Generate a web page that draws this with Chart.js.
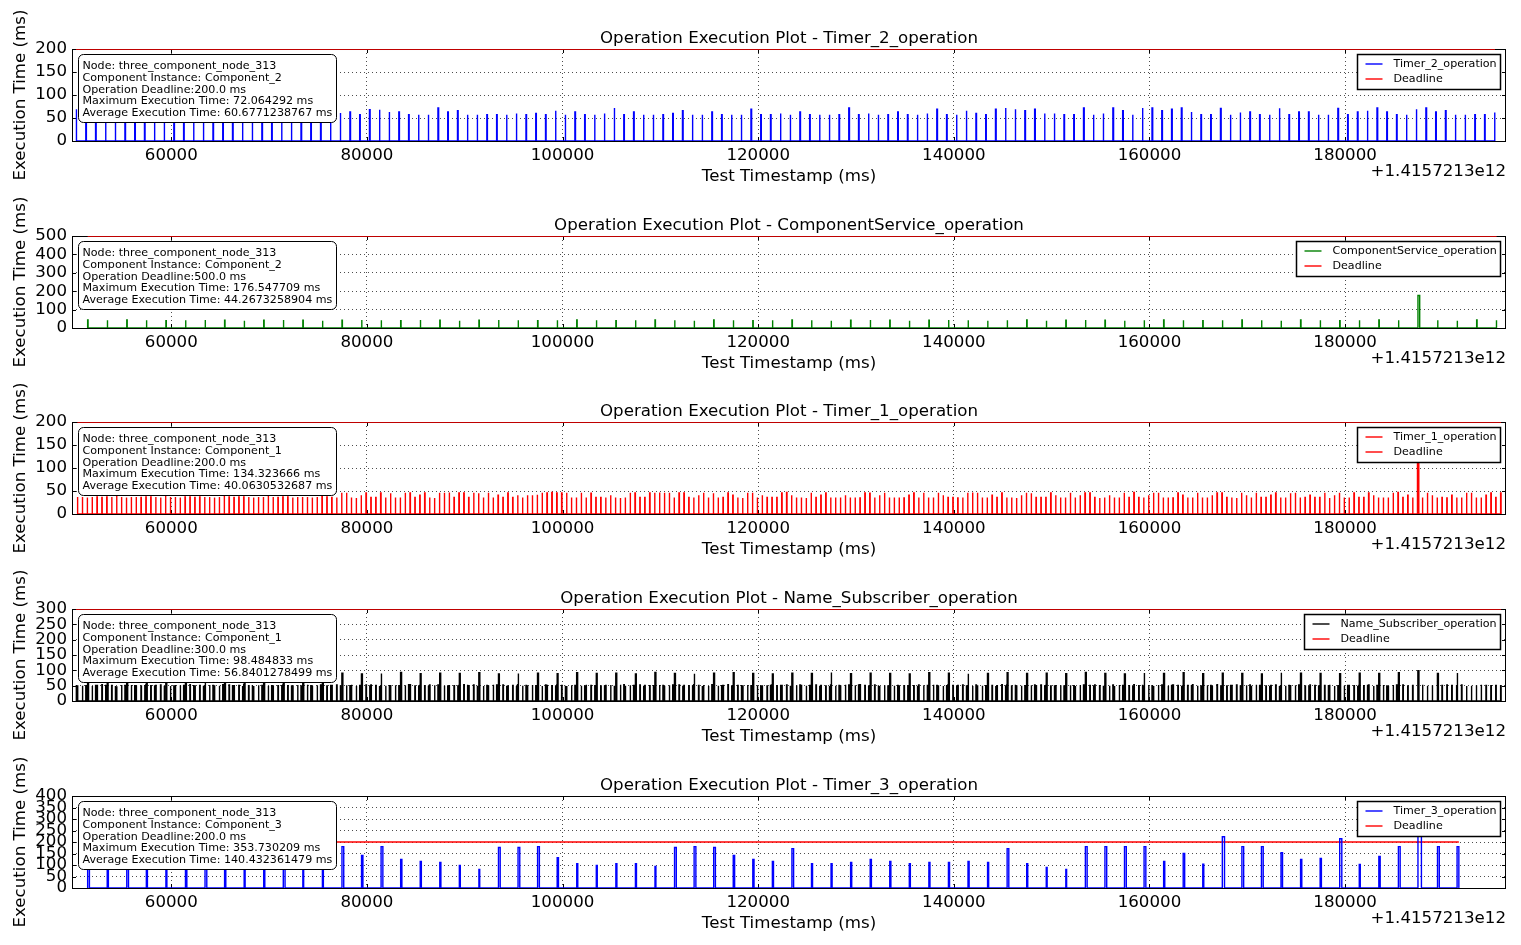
<!DOCTYPE html>
<html><head><meta charset="utf-8">
<script src="https://cdn.jsdelivr.net/npm/chart.js@4.4.1/dist/chart.umd.min.js"></script>
<style>
html,body{margin:0;padding:0;background:#fff;width:1521px;height:945px;overflow:hidden;}
canvas{position:absolute;left:0;}
</style></head><body>
<canvas id="c0" width="1521" height="187" style="top:0px"></canvas>
<canvas id="c1" width="1521" height="187" style="top:187px"></canvas>
<canvas id="c2" width="1521" height="187" style="top:373px"></canvas>
<canvas id="c3" width="1521" height="187" style="top:560px"></canvas>
<canvas id="c4" width="1521" height="187" style="top:747px"></canvas>
<script>
const FONT = "'DejaVu Sans', 'Liberation Sans', sans-serif";
const BIG = 16.67, SMALL = 11.1;
const xOffsetLabel = '+1.4157213e12';
const xTickValues = [60000, 80000, 100000, 120000, 140000, 160000, 180000];
const xAxisMin = 49850, xAxisMax = 196450;
const xAxisTitle = 'Test Timestamp (ms)';
const yAxisTitle = 'Execution Time (ms)';
const nodeName = 'three_component_node_313';

// Timer_2_operation: one execution every 1000 ms
const timer2Start = 50260, timer2Period = 1000;
const timer2Values = [
 69,60,58,62,57,60,63,57,60,58,62,57,60,63,57,59,61,57,60,62,58,57,60,63,57,61,58,
 61,63,57,68,68,63,63,57,57,57,72,63,66,57,57,57,57,57,60,
 57,60,57,66,57,63,57,57,60,72,57,63,57,57,57,60,66,57,57,63,
 57,57,57,69,57,57,60,57,63,57,57,57,57,72,57,60,57,57,63,57,
 57,60,69,57,57,66,60,57,69,
 72,69,66,69,60,60,57,57,72,57,60,72,66,57,72,72,66,69,72,63,57,57,71,57,62,
 63,57,57,71,57,63,63,57,57,71,57,63,66,72,63,57,57,69,72,63,66,57,57,57,57,62
];

// ComponentService_operation: one execution every 2000 ms
const compServiceStart = 51450, compServicePeriod = 2000;
const compServiceValues = [
 44,42,44,42,40,42,44,42,40,42,
 44,42,40,42,44,42,40,44,42,40,
 42,44,42,40,42,44,42,40,42,44,
 42,40,44,42,40,42,44,42,40,42,
 44,42,40,42,44,42,40,42,44,40,
 42,44,42,40,42,44,42,40,42,44,
 42,40,44,42,40,42,44,42,176.5,42,
 40,44,42
];

// Timer_1_operation: one execution every 500 ms
const timer1Start = 50400, timer1Period = 500;
const timer1Values = [
 37,37,36,37,37,36,37,37,40,37,
 36,37,37,36,37,37,37,36,40,37,
 37,36,37,37,36,37,37,37,36,37,
 40,37,36,37,37,37,36,37,37,40,
 37,36,37,37,36,37,37,37,36,37,
 40,37,
 36,36,46,46,36,35,41,46,36,36,
 46,36,45,36,36,46,46,36,41,46,
 36,35,46,46,47,36,46,46,36,46,
 45,36,46,36,41,36,46,36,41,36,
 41,41,42,46,46,47,46,46,46,36,
 36,46,36,45,36,36,36,41,36,35,
 36,46,46,36,36,46,46,47,46,46,
 36,46,
 46,36,36,41,46,36,45,36,36,46,
 41,36,35,46,46,36,41,36,36,36,
 46,47,41,36,36,35,46,36,41,46,
 36,36,36,41,36,36,35,46,45,36,
 41,46,36,36,36,35,41,46,36,46,
 36,36,46,41,36,36,35,36,46,47,
 46,36,36,41,36,46,36,36,35,41,
 46,45,36,36,36,46,41,36,36,46,
 36,41,46,46,36,35,36,41,36,36,
 46,36,47,36,36,41,46,46,36,36,
 35,46,41,36,36,46,36,36,41,46,
 46,36,36,35,46,41,36,46,36,36,
 41,46,36,36,45,46,36,36,41,36,
 36,46,35,41,46,36,36,46,36,36,
 46,41,36,36,36,46,47,36,41,36,
 134.3,36,46,41,36,36,35,41,36,36,
 46,46,36,36,41,46,36,46
];

// Name_Subscriber_operation: executions following each timer publication
const nameSubAfterTimer1 = [
 51,50,52,49,51,53,50,51,48,52, 50,52,51,49,53,50,51,52,50,49,
 52,51,50,53,49,51,50,52,51,50, 49,52,50,51,53,50,49,51,52,50,
 51,50,52,50,49,52,51,53,50,51, 50,49,51,52,50,51,53,49,50,52,
 52,51,49,50,52,51,50,51,53,49, 51,50,52,51,49,50,52,50,51,53,
 50,52,51,49,51,53,50,52,49,51, 53,50,51,52,50,49,51,50,52,51,
 49,51,52,50,53,51,50,49,51,52, 51,53,50,51,49,52,51,50,50,52,
 50,51,49,52,51,50,53,51,52,49, 52,50,51,53,50,51,49,52,50,51,
 51,49,52,50,51,52,50,51,53,50, 50,52,51,49,52,50,51,53,49,51,
 53,51,50,52,49,51,52,50,51,50, 49,50,52,51,50,53,51,49,52,51,
 51,52,50,49,51,50,52,51,50,53, 52,49,51,50,53,51,50,52,51,49,
 50,51,53,51,49,52,50,51,52,50, 51,50,49,52,51,50,53,50,49,52,
 49,52,51,50,52,51,49,51,53,50, 52,51,50,53,50,49,51,52,50,51,
 50,53,51,49,51,52,50,50,52,51, 51,49,52,51,50,51,53,49,51,50,
 53,50,51,50,52,49,51,52,50,52, 50,52,49,51,51,53,50,51,49,51,
 52,51,50,52,49,50,51,53,51,50, 51,50
];
const nameSubAfterTimer2 = [
 52,50,51,53,49,51,50,52,51,50, 49,51,52,50,51,53,50,49,52,51,
 50,52,51,49,50,52,53,51,50,51, 51,49,52,50,53,51,50,52,49,51,
 53,50,51,52,50,49,51,50,52,51, 50,51,49,52,51,50,53,51,50,52,
 51,52,50,51,49,53,50,51,52,50, 49,51,53,50,52,51,50,49,51,52,
 52,50,51,49,51,52,50,53,51,50, 50,51,52,50,49,51,53,50,52,51,
 51,49,50,52,51,50,52,51,49,53, 50,52,51,50,52,49,51,50,53,51,
 52,51,50,49,51,52,50,51,52,50, 51,50,53,51,49,52
];
const nameSubAfterTimer3 = [
 91,88,92,90,89,93,90,88,91,92,
 90,89,92,91,88,90,93,89,91,90,
 92,88,90,91,89,92,90,91,88,93,
 90,89,91,92,90,88,91,90,93,89,
 91,90,88,92,91,89,90,92,90,91,
 89,93,90,88,91,90,92,89,91,90,
 88,92,91,90,89,91,90,92,98.5,90,
 91
];

// Timer_3_operation: one execution every 2000 ms
const timer3Start = 51450, timer3Period = 2000;
const timer3Values = [
 180,120,176,110,100,141,180,124,98,111,180,82,98,
 180,141,180,124,115,111,98,81,176,176,180,132,106,98,106,106,94,
 176,180,176,141,124,115,171,106,106,111,124,115,106,111,111,115,111,
 171,106,89,81,180,180,180,180,115,150,104,223,180,180,154,124,128,214,102,137,180,353.7,180,180
];

const plotTitles = [
 'Operation Execution Plot - Timer_2_operation',
 'Operation Execution Plot - ComponentService_operation',
 'Operation Execution Plot - Timer_1_operation',
 'Operation Execution Plot - Name_Subscriber_operation',
 'Operation Execution Plot - Timer_3_operation'
];
const seriesLabels = ['Timer_2_operation','ComponentService_operation','Timer_1_operation','Name_Subscriber_operation','Timer_3_operation'];
const seriesColors = ['#0000ff','#008000','#ff0000','#000000','#0000ff'];
const componentInstances = ['Component_2','Component_2','Component_1','Component_1','Component_3'];
const deadlines = [200, 500, 200, 300, 200];
const deadlineTexts = ['200.0','500.0','200.0','300.0','200.0'];
const maxTexts = ['72.064292','176.547709','134.323666','98.484833','353.730209'];
const avgTexts = ['60.6771238767','44.2673258904','40.0630532687','56.8401278499','140.432361479'];
const yMaxes = [200, 500, 200, 300, 400];
const ySteps = [50, 100, 50, 50, 50];

function execs(start, period, values){
  return values.map((v,i)=>({t:start + i*period, v:v}));
}
function spikes(list){
  const pts = [];
  list.sort((a,b)=>a.t-b.t).forEach(e=>{
    pts.push({x:e.t,y:0},{x:e.t,y:e.v},{x:e.t+e.v,y:e.v},{x:e.t+e.v,y:0});
  });
  return pts;
}
const seriesExecs = [
  execs(timer2Start, timer2Period, timer2Values),
  execs(compServiceStart, compServicePeriod, compServiceValues),
  execs(timer1Start, timer1Period, timer1Values),
  [].concat(execs(timer1Start, timer1Period, nameSubAfterTimer1),
            execs(timer2Start, timer2Period, nameSubAfterTimer2),
            execs(timer3Start, timer3Period, nameSubAfterTimer3)),
  execs(timer3Start, timer3Period, timer3Values)
];

const overlay = {
  id:'overlay',
  beforeDatasetsDraw(chart){
    const {ctx, chartArea:a} = chart;
    ctx.save();
    ctx.strokeStyle = '#000'; ctx.lineWidth = 1;
    ctx.beginPath();
    xTickValues.forEach(v=>{
      const x = Math.round(chart.scales.x.getPixelForValue(v)) + 0.5;
      ctx.moveTo(x, a.bottom); ctx.lineTo(x, a.bottom-4);
      ctx.moveTo(x, a.top); ctx.lineTo(x, a.top+4);
    });
    chart.scales.y.ticks.forEach(t=>{
      const y = Math.round(chart.scales.y.getPixelForValue(t.value)) + 0.5;
      ctx.moveTo(a.left, y); ctx.lineTo(a.left+4, y);
      ctx.moveTo(a.right, y); ctx.lineTo(a.right-4, y);
    });
    ctx.stroke();
    ctx.strokeRect(a.left+0.5, a.top+0.5, a.right-a.left-1, a.bottom-a.top);
    ctx.restore();
  },
  afterDatasetsDraw(chart){
    const {ctx, chartArea:a} = chart;
    const i = chart.options.plugins.overlay.idx;
    ctx.save();
    ctx.font = SMALL + 'px ' + FONT;
    // info box
    const lines = ['Node: ' + nodeName, 'Component Instance: ' + componentInstances[i],
      'Operation Deadline:' + deadlineTexts[i] + ' ms', 'Maximum Execution Time: ' + maxTexts[i] + ' ms',
      'Average Execution Time: ' + avgTexts[i] + ' ms'];
    let w = 0; lines.forEach(l=>{w = Math.max(w, ctx.measureText(l).width);});
    const bx = a.left + 6.5, by = a.top + 5.5, bw = Math.round(w + 8), bh = 68;
    ctx.beginPath(); ctx.roundRect(bx, by, bw, bh, 5);
    ctx.fillStyle = '#fff'; ctx.fill(); ctx.strokeStyle = '#000'; ctx.lineWidth = 1; ctx.stroke();
    ctx.fillStyle = '#000'; ctx.textBaseline = 'middle'; ctx.textAlign = 'left';
    lines.forEach((l,k)=>ctx.fillText(l, bx + 4, by + 12 + k*11.65));
    // legend
    const labels = chart.data.datasets.map(d=>d.label);
    let lw = 0; labels.forEach(l=>{lw = Math.max(lw, ctx.measureText(l).width);});
    const lbw = Math.round(lw + 40), lx = a.right - 5.5 - lbw, ly = a.top + 5.5, lbh = 35;
    ctx.fillStyle = '#fff'; ctx.fillRect(lx, ly, lbw, lbh);
    ctx.lineWidth = 1.5; ctx.strokeStyle = '#000'; ctx.strokeRect(lx, ly, lbw, lbh);
    chart.data.datasets.forEach((d,k)=>{
      const yy = ly + 9.5 + k*15;
      ctx.strokeStyle = d.borderColor; ctx.lineWidth = 1.4;
      ctx.beginPath(); ctx.moveTo(lx + 8, Math.round(yy)); ctx.lineTo(lx + 25, Math.round(yy)); ctx.stroke();
      ctx.fillStyle = '#000'; ctx.fillText(d.label, lx + 36, yy);
    });
    ctx.restore();
  },
  afterDraw(chart){
    const {ctx, chartArea:a} = chart;
    ctx.save();
    ctx.font = BIG + 'px ' + FONT; ctx.fillStyle = '#000';
    ctx.textAlign = 'right'; ctx.textBaseline = 'middle';
    ctx.fillText(xOffsetLabel, a.right, 172);
    ctx.restore();
  }
};

for (let i = 0; i < 5; i++) {
  const ex = seriesExecs[i];
  const first = Math.min(...ex.map(e=>e.t));
  const lastEnd = Math.max(...ex.map(e=>e.t + e.v));
  new Chart(document.getElementById('c' + i), {
    type: 'line',
    data: { datasets: [
      { label: seriesLabels[i], data: spikes(ex), borderColor: seriesColors[i], borderWidth: 1.4,
        pointRadius: 0, tension: 0, fill: false, parsing: false, normalized: true, borderJoinStyle: 'miter' },
      { label: 'Deadline', data: [{x:first, y:deadlines[i]}, {x:lastEnd, y:deadlines[i]}], borderColor: '#ff0000',
        borderWidth: 1.4, pointRadius: 0, tension: 0, fill: false, parsing: false }
    ]},
    options: {
      responsive: false, animation: false, events: [],
      layout: { padding: { left: 0, right: 15, top: 0, bottom: 0 } },
      plugins: {
        legend: { display: false }, tooltip: { enabled: false },
        overlay: { idx: i },
        title: { display: true, fullSize: false, text: plotTitles[i], color: '#000',
          font: { family: FONT, size: BIG, weight: 'normal', lineHeight: 1.2 }, padding: { top: 29, bottom: 0 } }
      },
      scales: {
        x: { type: 'linear', min: xAxisMin, max: xAxisMax,
          afterBuildTicks: s => { s.ticks = xTickValues.map(v => ({ value: v })); },
          afterFit: s => { s.height = 46; },
          ticks: { color: '#000', font: { family: FONT, size: BIG }, padding: 5, maxRotation: 0, autoSkip: false,
            callback: v => String(v) },
          grid: { color: '#000', lineWidth: 0.7, drawTicks: false },
          border: { display: false, dash: [1, 3] },
          title: { display: true, text: xAxisTitle, color: '#000', font: { family: FONT, size: BIG }, padding: { top: 0, bottom: 0 } }
        },
        y: { min: 0, max: yMaxes[i],
          afterFit: s => { s.width = 72; },
          ticks: { stepSize: ySteps[i], autoSkip: false, color: '#000', font: { family: FONT, size: BIG }, padding: 5,
            callback: v => String(v) },
          grid: { color: '#000', lineWidth: 0.7, drawTicks: false },
          border: { display: false, dash: [1, 3] },
          title: { display: true, text: yAxisTitle, color: '#000', font: { family: FONT, size: BIG }, padding: { top: 11, bottom: 0 } }
        }
      }
    },
    plugins: [overlay]
  });
}
</script>
</body></html>
